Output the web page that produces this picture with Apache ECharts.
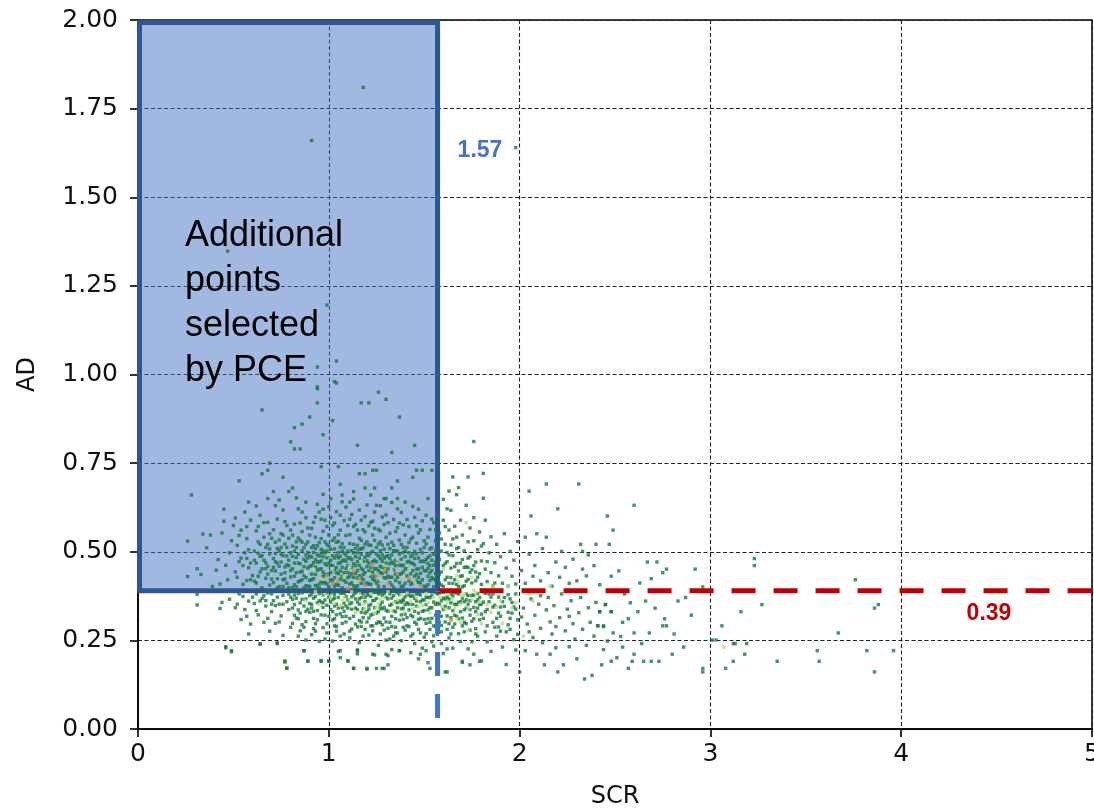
<!DOCTYPE html>
<html>
<head>
<meta charset="utf-8">
<script src="https://cdn.jsdelivr.net/npm/echarts@6/dist/echarts.min.js"></script>
<style>
html,body{margin:0;padding:0;background:#fff;}
#chart{width:1094px;height:808px;}
</style>
</head>
<body>
<div id="chart"></div>
<script>
// thresholds
const scrThreshold = 1.57;
const adThreshold = 0.39;
const blueLineBottom = 0.031;
const xMax = 5;
const yMax = 2;

// sparse high points
const upperPts = [[1.18,1.81],[0.91,1.66],[1.98,1.64],[0.47,1.348],[0.99,1.196],[0.94,1.021],[1.04,1.038],[0.94,0.965],[1.04,0.976],[0.94,0.96],[1.03,0.98],[1.26,0.95],[1.30,0.93],[1.17,0.92],[1.21,0.92],[0.94,0.92],[0.65,0.90],[0.90,0.88],[1.37,0.88],[1.02,0.87],[0.86,0.86],[0.82,0.85],[0.97,0.83],[0.80,0.81],[1.15,0.80],[1.45,0.80],[0.82,0.79],[0.85,0.79],[1.33,0.78],[0.69,0.75],[0.96,0.74],[1.05,0.74],[0.68,0.73],[0.65,0.72],[0.76,0.71],[0.53,0.70],[1.16,0.72],[1.19,0.72],[1.23,0.73],[1.25,0.73],[1.46,0.73],[1.49,0.73],[1.54,0.73],[1.44,0.71],[1.36,0.70],[1.33,0.68],[1.19,0.68],[1.24,0.68],[1.06,0.69],[0.28,0.66],[0.81,0.68],[0.79,0.67],[0.71,0.67],[0.68,0.65],[1.07,0.66],[1.13,0.67],[1.30,0.65],[1.36,0.65],[1.29,0.65],[0.26,0.53],[0.34,0.55],[0.26,0.43],[0.31,0.38],[0.31,0.35],[0.43,0.34],[0.58,0.64],[0.72,0.63],[0.88,0.64],[1.01,0.65],[1.11,0.64],[1.22,0.66],[1.40,0.64],[1.52,0.65],[0.45,0.62],[0.97,0.62],[1.27,0.63],[1.47,0.62]];

// cluster inside the selection box (AD >= 0.39, SCR <= 1.57)
const insidePts = [[0.31,0.452],[0.36,0.511],[0.42,0.478],[0.44,0.553],[0.47,0.421],[0.39,0.402],[0.48,0.497],[0.45,0.586],[0.33,0.436],[0.49,0.531],[0.41,0.448],[0.46,0.462],[0.50,0.574],[0.38,0.547],[0.43,0.409],
[0.51,0.443],[0.52,0.518],[0.53,0.472],[0.54,0.561],[0.55,0.408],[0.56,0.497],[0.57,0.537],[0.58,0.455],[0.59,0.589],[0.52,0.428],[0.54,0.482],[0.56,0.612],[0.57,0.419],[0.58,0.506],[0.59,0.468],[0.53,0.546],[0.55,0.461],[0.51,0.595],[0.57,0.571],[0.60,0.433],
[0.61,0.502],[0.61,0.417],[0.62,0.559],[0.62,0.468],[0.63,0.431],[0.63,0.528],[0.64,0.487],[0.64,0.603],[0.65,0.452],[0.65,0.398],[0.66,0.541],[0.66,0.476],[0.67,0.512],[0.67,0.425],[0.68,0.583],[0.68,0.459],[0.69,0.494],[0.69,0.406],[0.70,0.538],[0.70,0.447],[0.62,0.629],[0.66,0.582],[0.68,0.521],[0.64,0.443],[0.67,0.469],[0.63,0.571],[0.69,0.551],[0.61,0.476],
[0.71,0.481],[0.71,0.413],[0.72,0.527],[0.72,0.446],[0.73,0.592],[0.73,0.468],[0.74,0.503],[0.74,0.402],[0.75,0.551],[0.75,0.437],[0.76,0.489],[0.76,0.618],[0.77,0.457],[0.77,0.522],[0.78,0.411],[0.78,0.574],[0.79,0.476],[0.79,0.538],[0.80,0.429],[0.80,0.497],[0.71,0.562],[0.73,0.424],[0.74,0.646],[0.75,0.471],[0.76,0.421],[0.77,0.585],[0.78,0.463],[0.79,0.399],[0.72,0.495],[0.76,0.547],[0.78,0.512],[0.74,0.533],[0.80,0.561],[0.73,0.509],[0.77,0.441],
[0.81,0.452],[0.81,0.516],[0.82,0.407],[0.82,0.578],[0.83,0.484],[0.83,0.441],[0.84,0.539],[0.84,0.621],[0.85,0.466],[0.85,0.418],[0.86,0.503],[0.86,0.557],[0.87,0.433],[0.87,0.479],[0.88,0.596],[0.88,0.521],[0.89,0.454],[0.89,0.403],[0.90,0.488],[0.90,0.547],[0.81,0.399],[0.82,0.468],[0.83,0.528],[0.84,0.493],[0.85,0.581],[0.86,0.445],[0.87,0.511],[0.88,0.427],[0.89,0.567],[0.90,0.419],[0.83,0.652],[0.86,0.612],[0.88,0.473],[0.81,0.547],[0.85,0.532],[0.87,0.398],[0.89,0.498],[0.84,0.415],[0.82,0.502],[0.90,0.459],
[0.91,0.437],[0.91,0.512],[0.92,0.469],[0.92,0.583],[0.93,0.405],[0.93,0.541],[0.94,0.491],[0.94,0.448],[0.95,0.526],[0.95,0.612],[0.96,0.417],[0.96,0.474],[0.97,0.558],[0.97,0.503],[0.98,0.436],[0.98,0.589],[0.99,0.462],[0.99,0.521],[1.00,0.401],[1.00,0.548],[0.91,0.566],[0.92,0.424],[0.93,0.478],[0.94,0.634],[0.95,0.451],[0.96,0.537],[0.97,0.412],[0.98,0.497],[0.99,0.571],[1.00,0.468],[0.92,0.517],[0.94,0.403],[0.96,0.592],[0.98,0.528],[1.00,0.627],[0.93,0.457],[0.95,0.488],[0.97,0.443],[0.99,0.409],[0.91,0.485],[0.93,0.598],[0.95,0.397],[0.97,0.662],[0.99,0.483],[0.96,0.507],
[1.01,0.442],[1.01,0.507],[1.02,0.574],[1.02,0.418],[1.03,0.482],[1.03,0.539],[1.04,0.455],[1.04,0.613],[1.05,0.498],[1.05,0.406],[1.06,0.561],[1.06,0.469],[1.07,0.431],[1.07,0.523],[1.08,0.588],[1.08,0.477],[1.09,0.414],[1.09,0.546],[1.10,0.461],[1.10,0.502],[1.01,0.596],[1.02,0.461],[1.03,0.403],[1.04,0.527],[1.05,0.548],[1.06,0.422],[1.07,0.641],[1.08,0.441],[1.09,0.491],[1.10,0.574],[1.02,0.532],[1.04,0.489],[1.06,0.603],[1.08,0.512],[1.10,0.427],[1.03,0.451],[1.05,0.467],[1.07,0.398],[1.09,0.626],[1.01,0.476],[1.03,0.581],[1.05,0.529],[1.07,0.474],[1.09,0.453],[1.06,0.513],
[1.11,0.483],[1.11,0.548],[1.12,0.412],[1.12,0.605],[1.13,0.466],[1.13,0.521],[1.14,0.439],[1.14,0.577],[1.15,0.497],[1.15,0.404],[1.16,0.538],[1.16,0.462],[1.17,0.589],[1.17,0.427],[1.18,0.511],[1.18,0.473],[1.19,0.556],[1.19,0.408],[1.20,0.491],[1.20,0.632],[1.11,0.431],[1.12,0.503],[1.13,0.571],[1.14,0.486],[1.15,0.447],[1.16,0.618],[1.17,0.493],[1.18,0.562],[1.19,0.441],[1.20,0.528],[1.12,0.457],[1.14,0.399],[1.16,0.507],[1.18,0.421],[1.20,0.458],[1.11,0.592],[1.13,0.428],[1.15,0.561],[1.17,0.532],[1.19,0.599],[1.13,0.649],[1.15,0.518],[1.17,0.453],[1.19,0.484],[1.16,0.432],
[1.21,0.446],[1.21,0.519],[1.22,0.583],[1.22,0.408],[1.23,0.472],[1.23,0.547],[1.24,0.431],[1.24,0.612],[1.25,0.494],[1.25,0.452],[1.26,0.563],[1.26,0.417],[1.27,0.528],[1.27,0.481],[1.28,0.598],[1.28,0.439],[1.29,0.507],[1.29,0.402],[1.30,0.541],[1.30,0.468],[1.21,0.573],[1.22,0.497],[1.23,0.423],[1.24,0.532],[1.25,0.631],[1.26,0.488],[1.27,0.441],[1.28,0.519],[1.29,0.577],[1.30,0.426],[1.22,0.456],[1.24,0.476],[1.26,0.522],[1.28,0.473],[1.30,0.604],[1.21,0.409],[1.23,0.586],[1.25,0.411],[1.27,0.559],[1.29,0.458],[1.24,0.566],[1.27,0.503],
[1.31,0.489],[1.31,0.431],[1.32,0.552],[1.32,0.466],[1.33,0.406],[1.33,0.527],[1.34,0.591],[1.34,0.448],[1.35,0.503],[1.35,0.419],[1.36,0.568],[1.36,0.476],[1.37,0.437],[1.37,0.533],[1.38,0.611],[1.38,0.461],[1.39,0.498],[1.39,0.403],[1.40,0.547],[1.40,0.452],[1.31,0.582],[1.32,0.413],[1.33,0.471],[1.34,0.518],[1.35,0.557],[1.36,0.428],[1.37,0.493],[1.38,0.402],[1.39,0.576],[1.40,0.486],[1.32,0.509],[1.34,0.399],[1.36,0.621],[1.38,0.521],[1.33,0.639],[1.35,0.461],[1.37,0.581],[1.39,0.443],
[1.41,0.432],[1.41,0.512],[1.42,0.473],[1.42,0.571],[1.43,0.408],[1.43,0.536],[1.44,0.491],[1.44,0.447],[1.45,0.597],[1.45,0.463],[1.46,0.524],[1.46,0.418],[1.47,0.482],[1.47,0.553],[1.48,0.439],[1.48,0.506],[1.49,0.587],[1.49,0.456],[1.50,0.403],[1.50,0.531],[1.41,0.591],[1.42,0.417],[1.43,0.469],[1.44,0.628],[1.45,0.501],[1.46,0.451],[1.47,0.414],[1.48,0.562],[1.49,0.497],[1.50,0.472],[1.42,0.526],[1.44,0.541],[1.46,0.573],[1.48,0.412],
[1.51,0.446],[1.51,0.522],[1.52,0.484],[1.52,0.407],[1.53,0.563],[1.53,0.461],[1.54,0.427],[1.54,0.511],[1.55,0.493],[1.55,0.582],[1.56,0.438],[1.56,0.471],[1.51,0.603],[1.52,0.541],[1.53,0.419],[1.54,0.476],[1.55,0.401],[1.56,0.531],[1.52,0.453],[1.54,0.592],[1.56,0.562],[1.53,0.508]];

// densest part of the box, just above the AD threshold
const insideDensePts = [[0.62,0.412],[0.65,0.489],[0.68,0.437],[0.71,0.456],[0.73,0.398],[0.75,0.512],[0.77,0.423],[0.79,0.461],[0.81,0.487],[0.83,0.401],[0.85,0.443],[0.86,0.527],[0.88,0.404],[0.89,0.482],[0.91,0.421],[0.92,0.498],[0.93,0.436],[0.94,0.517],[0.95,0.409],[0.96,0.452],[0.97,0.486],[0.98,0.413],[0.99,0.502],[1.00,0.437],[1.01,0.421],[1.02,0.489],[1.03,0.427],[1.04,0.408],[1.05,0.483],[1.06,0.446],[1.07,0.502],[1.08,0.419],[1.09,0.473],[1.10,0.441],[1.11,0.409],[1.12,0.478],[1.13,0.497],[1.14,0.461],[1.15,0.426],[1.16,0.482],[1.17,0.411],[1.18,0.449],[1.19,0.522],[1.20,0.412],[1.21,0.468],[1.22,0.431],[1.23,0.501],[1.24,0.452],[1.25,0.472],[1.26,0.403],[1.27,0.459],[1.28,0.491],[1.29,0.427],[1.30,0.486],[1.31,0.452],[1.32,0.428],[1.33,0.491],[1.34,0.467],[1.35,0.437],[1.36,0.502],[1.37,0.413],[1.38,0.479],[1.39,0.462],[1.40,0.411],[1.41,0.471],[1.42,0.497],[1.43,0.438],[1.44,0.412],[1.45,0.481],[1.46,0.437],[1.47,0.452],[1.48,0.472],[1.49,0.421],[1.50,0.447],[1.51,0.478],[1.52,0.431],[1.53,0.489],[1.54,0.447],[1.55,0.423],[1.56,0.502],
[0.64,0.521],[0.67,0.452],[0.70,0.423],[0.72,0.472],[0.74,0.459],[0.76,0.402],[0.78,0.488],[0.80,0.447],[0.82,0.431],[0.84,0.468],[0.86,0.421],[0.87,0.458],[0.88,0.491],[0.90,0.402],[0.91,0.461],[0.93,0.509],[0.94,0.471],[0.96,0.496],[0.97,0.431],[0.98,0.466],[1.00,0.516],[1.01,0.462],[1.03,0.508],[1.04,0.441],[1.06,0.487],[1.07,0.456],[1.08,0.496],[1.10,0.482],[1.11,0.523],[1.12,0.438],[1.14,0.509],[1.15,0.472],[1.17,0.508],[1.18,0.436],[1.20,0.474],[1.21,0.489],[1.22,0.518],[1.24,0.419],[1.25,0.512],[1.26,0.447],[1.28,0.456],[1.29,0.482],[1.30,0.443],[1.32,0.481],[1.33,0.428],[1.34,0.503],[1.35,0.476],[1.37,0.462],[1.38,0.438],[1.40,0.502],[1.41,0.452],[1.43,0.486],[1.44,0.467],[1.46,0.494],[1.47,0.428],[1.49,0.474],[1.50,0.512],[1.52,0.467],[1.53,0.441],[1.55,0.462],[1.56,0.419],[0.69,0.508],[0.75,0.493],[0.83,0.512],[0.89,0.528],[0.95,0.471],[1.05,0.438],[1.13,0.404],[1.23,0.443],[1.31,0.521],[1.39,0.513],[1.45,0.431],[1.51,0.401],[0.59,0.421],[0.63,0.496],[0.57,0.481]];

// cluster below the AD threshold
const belowPts = [[0.46,0.229],[0.49,0.218],[0.52,0.352],[0.55,0.374],[0.57,0.318],[0.58,0.361],[0.59,0.296],[0.53,0.381],[0.56,0.337],[0.60,0.372],[0.48,0.366],[0.51,0.342],[0.44,0.357],[0.58,0.268],[0.54,0.309],
[0.61,0.354],[0.62,0.381],[0.63,0.322],[0.64,0.239],[0.65,0.368],[0.66,0.301],[0.67,0.347],[0.68,0.384],[0.69,0.276],[0.70,0.331],[0.71,0.362],[0.72,0.298],[0.73,0.241],[0.74,0.352],[0.75,0.319],[0.76,0.377],[0.77,0.189],[0.78,0.172],[0.79,0.337],[0.80,0.287],[0.62,0.334],[0.64,0.361],[0.66,0.376],[0.68,0.312],[0.70,0.381],[0.72,0.348],[0.74,0.302],[0.76,0.264],[0.78,0.359],[0.80,0.372],
[0.81,0.341],[0.82,0.378],[0.83,0.313],[0.84,0.262],[0.85,0.356],[0.86,0.294],[0.87,0.221],[0.88,0.367],[0.89,0.192],[0.90,0.329],[0.91,0.351],[0.92,0.283],[0.93,0.374],[0.94,0.308],[0.95,0.247],[0.96,0.193],[0.97,0.343],[0.98,0.364],[0.99,0.271],[1.00,0.318],[0.81,0.298],[0.82,0.321],[0.83,0.369],[0.84,0.336],[0.85,0.277],[0.86,0.384],[0.87,0.347],[0.88,0.303],[0.89,0.338],[0.90,0.376],[0.91,0.266],[0.92,0.332],[0.93,0.297],[0.94,0.356],[0.95,0.382],[0.96,0.322],[0.97,0.286],[0.98,0.254],[0.99,0.349],[1.00,0.372],[0.84,0.382],[0.88,0.251],[0.92,0.369],[0.96,0.358],[1.00,0.192],
[1.01,0.337],[1.02,0.366],[1.03,0.291],[1.04,0.352],[1.05,0.219],[1.06,0.325],[1.07,0.384],[1.08,0.268],[1.09,0.347],[1.10,0.193],[1.11,0.312],[1.12,0.373],[1.13,0.171],[1.14,0.296],[1.15,0.358],[1.16,0.244],[1.17,0.329],[1.18,0.381],[1.19,0.281],[1.20,0.169],[1.01,0.384],[1.02,0.308],[1.03,0.347],[1.04,0.276],[1.05,0.371],[1.06,0.262],[1.07,0.317],[1.08,0.355],[1.09,0.302],[1.10,0.364],[1.11,0.257],[1.12,0.338],[1.13,0.378],[1.14,0.341],[1.15,0.223],[1.16,0.367],[1.17,0.289],[1.18,0.314],[1.19,0.359],[1.20,0.331],[1.06,0.221],[1.15,0.212],[1.02,0.248],[1.04,0.322],[1.08,0.383],[1.12,0.282],[1.16,0.306],[1.18,0.262],[1.20,0.378],[1.03,0.379],[1.07,0.342],[1.11,0.353],[1.14,0.367],[1.17,0.371],[1.19,0.327],
[1.21,0.348],[1.22,0.291],[1.23,0.362],[1.24,0.209],[1.25,0.327],[1.26,0.381],[1.27,0.268],[1.28,0.339],[1.29,0.171],[1.30,0.302],[1.31,0.367],[1.32,0.254],[1.33,0.318],[1.34,0.376],[1.35,0.287],[1.36,0.342],[1.37,0.221],[1.38,0.358],[1.39,0.309],[1.40,0.373],[1.21,0.313],[1.22,0.374],[1.23,0.277],[1.24,0.342],[1.25,0.368],[1.26,0.236],[1.27,0.351],[1.28,0.294],[1.29,0.382],[1.30,0.335],[1.31,0.284],[1.32,0.349],[1.33,0.369],[1.34,0.262],[1.35,0.331],[1.36,0.384],[1.37,0.307],[1.38,0.249],[1.39,0.366],[1.40,0.324],[1.22,0.321],[1.24,0.386],[1.26,0.302],[1.28,0.377],[1.30,0.251],[1.32,0.381],[1.34,0.333],[1.36,0.271],[1.38,0.322],[1.40,0.279],[1.21,0.265],[1.25,0.298],[1.29,0.313],[1.33,0.224],[1.37,0.361],[1.31,0.207],[1.35,0.359],[1.39,0.341],[1.27,0.384],[1.23,0.388],
[1.41,0.356],[1.42,0.289],[1.43,0.374],[1.44,0.317],[1.45,0.241],[1.46,0.347],[1.47,0.381],[1.48,0.271],[1.49,0.332],[1.50,0.364],[1.51,0.298],[1.52,0.187],[1.53,0.342],[1.54,0.377],[1.55,0.263],[1.56,0.321],[1.57,0.355],[1.58,0.384],[1.59,0.292],[1.60,0.337],[1.41,0.314],[1.42,0.378],[1.43,0.262],[1.44,0.351],[1.45,0.368],[1.46,0.296],[1.47,0.327],[1.48,0.359],[1.49,0.228],[1.50,0.309],[1.51,0.372],[1.52,0.336],[1.53,0.281],[1.54,0.312],[1.55,0.358],[1.56,0.385],[1.57,0.267],[1.58,0.329],[1.59,0.362],[1.60,0.213],[1.42,0.336],[1.44,0.268],[1.46,0.381],[1.48,0.312],[1.50,0.259],[1.52,0.371],[1.54,0.246],[1.56,0.289],[1.58,0.302],[1.60,0.369],[1.43,0.215],[1.47,0.198],[1.51,0.221],[1.55,0.234],[1.59,0.241],
[1.61,0.346],[1.62,0.281],[1.63,0.367],[1.64,0.314],[1.65,0.228],[1.66,0.352],[1.67,0.384],[1.68,0.269],[1.69,0.331],[1.70,0.188],[1.71,0.359],[1.72,0.297],[1.73,0.376],[1.74,0.321],[1.75,0.246],[1.76,0.343],[1.77,0.283],[1.78,0.364],[1.79,0.308],[1.80,0.192],[1.61,0.302],[1.62,0.372],[1.63,0.257],[1.64,0.381],[1.65,0.334],[1.66,0.296],[1.67,0.318],[1.68,0.357],[1.69,0.247],[1.70,0.369],[1.71,0.274],[1.72,0.341],[1.73,0.226],[1.74,0.362],[1.75,0.304],[1.76,0.378],[1.77,0.331],[1.78,0.262],[1.79,0.351],[1.80,0.324],[1.62,0.226],[1.64,0.268],[1.66,0.386],[1.68,0.311],[1.70,0.291],[1.72,0.364],[1.74,0.279],[1.76,0.211],[1.78,0.382],[1.61,0.161],
[1.81,0.358],[1.82,0.274],[1.83,0.337],[1.84,0.381],[1.85,0.219],[1.86,0.301],[1.87,0.349],[1.88,0.262],[1.89,0.372],[1.90,0.318],[1.91,0.231],[1.92,0.346],[1.93,0.182],[1.94,0.294],[1.95,0.367],[1.96,0.327],[1.97,0.252],[1.98,0.381],[1.99,0.308],[2.00,0.161],[1.81,0.312],[1.83,0.246],[1.85,0.372],[1.87,0.287],[1.89,0.327],[1.91,0.359],[1.93,0.274],[1.95,0.312],[1.97,0.344],[1.99,0.267],[1.82,0.383],[1.86,0.344],[1.90,0.276],[1.94,0.379],[1.98,0.223],
[0.46,0.232],[0.49,0.221],[0.64,0.241],[0.73,0.243],[0.77,0.192],[0.78,0.171],[0.87,0.221],[0.89,0.191],[0.96,0.191],[1.00,0.191],[1.06,0.201],[1.10,0.191],[1.13,0.171],[1.20,0.171],[1.25,0.171],[1.28,0.171],[1.31,0.181],[1.15,0.221],[1.23,0.211],[1.30,0.211],[1.37,0.221],[1.48,0.211],[1.53,0.171],[1.62,0.161],[1.70,0.191],[1.79,0.191],[1.74,0.181]];

// densest part below the AD threshold
const belowDensePts = [[0.76,0.352],[0.79,0.381],[0.82,0.351],[0.84,0.311],[0.86,0.366],[0.88,0.332],[0.90,0.354],[0.91,0.381],[0.92,0.312],[0.94,0.334],[0.95,0.362],[0.97,0.378],[0.98,0.321],[0.99,0.384],[1.01,0.358],[1.02,0.331],[1.03,0.369],[1.05,0.341],[1.06,0.383],[1.07,0.298],[1.08,0.332],[1.09,0.374],[1.10,0.341],[1.12,0.356],[1.13,0.318],[1.14,0.384],[1.15,0.337],[1.16,0.352],[1.17,0.386],[1.18,0.339],[1.19,0.371],[1.20,0.302],[1.21,0.378],[1.22,0.351],[1.23,0.324],[1.24,0.363],[1.25,0.386],[1.26,0.331],[1.27,0.301],[1.28,0.358],[1.29,0.343],[1.30,0.371],[1.31,0.332],[1.32,0.301],[1.33,0.352],[1.34,0.389],[1.35,0.311],[1.36,0.356],[1.37,0.379],[1.38,0.339],[1.39,0.287],[1.40,0.351],[1.41,0.381],[1.42,0.352],[1.43,0.321],[1.44,0.376],[1.45,0.332],[1.46,0.361],[1.47,0.309],[1.48,0.378],[1.49,0.364],[1.50,0.334],[1.51,0.351],[1.52,0.311],[1.53,0.371],[1.54,0.342],[1.55,0.291],[1.56,0.352],[1.57,0.381],[1.58,0.352],[1.59,0.318],[1.60,0.386],[1.61,0.367],[1.62,0.319],[1.63,0.342],[1.64,0.356],[1.65,0.376],[1.66,0.321],[1.67,0.351],[1.68,0.381],[1.69,0.359],[1.70,0.313],[1.71,0.336],[1.72,0.381],[1.73,0.352],[1.74,0.337],[1.75,0.377],[1.76,0.311],[1.77,0.359],[1.78,0.341],[1.79,0.371],[1.80,0.352],[1.82,0.331],[1.84,0.359],[1.86,0.381],[1.88,0.312],[1.90,0.344],[1.92,0.371],[1.94,0.329],[1.96,0.357],[1.98,0.338],
[0.87,0.287],[0.93,0.276],[0.99,0.297],[1.04,0.289],[1.11,0.276],[1.17,0.302],[1.23,0.291],[1.29,0.279],[1.35,0.271],[1.41,0.291],[1.47,0.281],[1.53,0.301],[1.59,0.274],[1.65,0.287],[1.71,0.301],[1.77,0.268],[1.83,0.291],[1.89,0.288],[1.95,0.281],[1.63,0.297],[1.57,0.327],[1.51,0.269],[1.45,0.301],[1.39,0.362],[1.33,0.289],[1.27,0.341],[1.21,0.338],[1.15,0.288],[1.09,0.318],[1.03,0.311],[0.97,0.356],[0.91,0.341],[0.85,0.327],[0.81,0.366],[0.73,0.372],[0.70,0.352],[0.67,0.362]];

// right of the SCR threshold, above the AD threshold
const rightUpperPts = [[1.76,0.811],[1.65,0.711],[1.73,0.711],[1.81,0.721],[1.81,0.651],[1.63,0.671],[1.67,0.661],[2.05,0.671],[2.14,0.691],[2.31,0.691],[2.20,0.621],[2.06,0.601],[2.60,0.631],[2.46,0.601],[2.49,0.561],[2.32,0.521],[2.40,0.521],[2.47,0.521],[2.03,0.541],[2.09,0.551],[2.14,0.541],[2.22,0.501],[2.33,0.501],[2.36,0.491],[2.33,0.451],[2.39,0.461],[2.48,0.431],
[1.58,0.412],[1.58,0.478],[1.59,0.536],[1.59,0.443],[1.60,0.402],[1.60,0.589],[1.61,0.467],[1.61,0.521],[1.62,0.428],[1.62,0.498],[1.63,0.561],[1.63,0.411],[1.64,0.454],[1.64,0.617],[1.65,0.489],[1.65,0.536],[1.66,0.421],[1.66,0.572],[1.67,0.467],[1.67,0.408],[1.68,0.512],[1.68,0.446],[1.69,0.589],[1.69,0.431],[1.70,0.478],[1.70,0.547],[1.71,0.404],[1.71,0.503],[1.72,0.457],[1.72,0.631],[1.73,0.422],[1.73,0.528],[1.74,0.486],[1.74,0.567],[1.75,0.412],[1.75,0.449],[1.76,0.531],[1.76,0.596],[1.77,0.471],[1.77,0.418],[1.78,0.506],[1.79,0.438],[1.79,0.556],[1.80,0.474],[1.80,0.408],[1.81,0.523],[1.82,0.451],[1.82,0.589],[1.83,0.416],[1.84,0.497],[1.85,0.441],[1.85,0.542],[1.86,0.403],[1.87,0.469],[1.88,0.521],[1.89,0.432],[1.90,0.486],[1.91,0.411],[1.92,0.551],[1.93,0.454],[1.94,0.403],[1.95,0.501],[1.96,0.431],[1.97,0.476],[1.98,0.409],[1.99,0.529],[2.01,0.447],[2.03,0.411],[2.05,0.493],[2.07,0.431],[2.08,0.461],[2.11,0.418],[2.12,0.509],[2.15,0.441],[2.17,0.403],[2.19,0.471],[2.21,0.428],[2.24,0.456],[2.26,0.411],[2.28,0.479],[2.30,0.418],[2.35,0.432],[2.42,0.407],[1.60,0.648],[1.68,0.681],[1.62,0.621],
[1.58,0.437],[1.59,0.502],[1.60,0.461],[1.61,0.421],[1.62,0.472],[1.63,0.491],[1.64,0.427],[1.65,0.411],[1.66,0.458],[1.67,0.509],[1.68,0.402],[1.69,0.468],[1.70,0.432],[1.71,0.456],[1.72,0.417],[1.73,0.482],[1.74,0.442],[1.76,0.461],[1.78,0.428],[1.80,0.516],[1.58,0.553],[1.61,0.571],[1.64,0.519],[1.67,0.541],[1.70,0.401],[1.73,0.456],[1.77,0.443],[1.83,0.472],[1.87,0.412],[1.59,0.406]];

const rightLowerPts = [[2.03,0.221],[2.09,0.211],[2.13,0.181],[2.20,0.161],[2.23,0.181],[2.34,0.141],[2.38,0.151],[2.43,0.181],[2.48,0.191],[2.02,0.341],[2.04,0.296],[2.06,0.367],[2.07,0.258],[2.08,0.321],[2.10,0.352],[2.11,0.284],[2.12,0.243],[2.14,0.336],[2.15,0.371],[2.16,0.302],[2.17,0.268],[2.18,0.348],[2.19,0.229],[2.21,0.314],[2.22,0.381],[2.24,0.277],[2.25,0.338],[2.26,0.232],[2.27,0.362],[2.28,0.297],[2.29,0.254],[2.31,0.328],[2.32,0.371],[2.33,0.281],[2.35,0.236],[2.36,0.342],[2.37,0.301],[2.39,0.262],[2.40,0.357],[2.41,0.291],[2.42,0.331],[2.44,0.289],[2.45,0.351],[2.46,0.248],[2.48,0.331],[2.49,0.271],[2.05,0.274],[2.16,0.211],[2.30,0.198],[2.01,0.316],[2.11,0.376],[2.26,0.318],[2.44,0.224],[2.19,0.289]];

const tailPts = [[2.67,0.471],[2.72,0.471],[2.77,0.451],[2.75,0.441],[2.92,0.451],[3.23,0.481],[3.23,0.461],[2.96,0.401],[2.66,0.361],[2.83,0.361],[2.87,0.371],[3.16,0.331],[2.71,0.341],[2.90,0.321],[2.76,0.311],[2.75,0.291],[2.77,0.291],[2.68,0.271],[3.06,0.291],[3.01,0.251],[3.12,0.241],[3.18,0.211],[3.12,0.191],[3.08,0.171],[2.96,0.171],[2.96,0.161],[2.86,0.231],[2.80,0.211],[2.73,0.191],[2.69,0.191],[2.65,0.191],[2.60,0.211],[2.57,0.171],[2.59,0.191],[2.54,0.231],[2.60,0.271],[2.62,0.331],[2.57,0.311],[2.54,0.301],[2.53,0.261],[2.44,0.291],[2.41,0.291],[2.45,0.351],[2.42,0.331],[2.48,0.331],[3.76,0.421],[3.27,0.351],[3.86,0.341],[3.88,0.351],[3.67,0.271],[3.19,0.241],[3.13,0.241],[3.35,0.191],[3.56,0.221],[3.57,0.191],[3.82,0.221],[3.96,0.221],[3.86,0.161],[3.03,0.251],[2.55,0.381],[2.63,0.412],[2.52,0.446],[2.58,0.356],[2.69,0.424],[2.81,0.268],[2.51,0.201],[2.64,0.241]];

// high-density points (lighter colours)
const lightPts = [[1.58,0.372],[1.62,0.356],[1.66,0.341],[1.71,0.381],[1.75,0.366],[1.83,0.351],[1.88,0.344],[1.64,0.392],[1.69,0.301],[1.78,0.322],[1.52,0.357],[1.46,0.371],[1.41,0.383],[1.36,0.364],[1.31,0.387],[1.27,0.366],[1.22,0.381],[1.18,0.352],[1.12,0.387],[1.08,0.371],[1.03,0.355],[0.98,0.379],[0.93,0.388],[1.57,0.309],[1.73,0.279],[1.94,0.401],[2.16,0.402],[1.91,0.298],[2.07,0.361],[3.07,0.231],[1.67,0.432],[1.72,0.582],[1.77,0.384],[1.49,0.348],[1.39,0.331],[1.14,0.329],[0.88,0.361],[1.81,0.392],[1.60,0.451],[2.02,0.262],
[1.02,0.452],[1.08,0.431],[1.14,0.414],[1.21,0.437],[1.27,0.421],[1.33,0.446],[1.39,0.427],[1.45,0.415],[0.96,0.423],[0.88,0.441],[1.17,0.472],[1.29,0.461],[1.00,0.492],[1.24,0.402],[1.36,0.478],[1.11,0.458],[0.92,0.451],[1.42,0.451],
[0.95,0.351],[1.01,0.372],[1.06,0.349],[1.11,0.366],[1.16,0.381],[1.20,0.357],[1.25,0.343],[1.29,0.371],[1.34,0.357],[1.38,0.379],[1.43,0.361],[1.47,0.345],[1.51,0.382],[1.55,0.371],[1.61,0.338],[1.65,0.367],[1.69,0.352],[1.73,0.341],[1.79,0.358],[1.85,0.329],[1.90,0.361],[1.96,0.342],[1.70,0.376],[1.63,0.384],[1.59,0.346],[1.53,0.328],[1.44,0.339],[1.33,0.334],[1.24,0.327],[1.19,0.339],[1.07,0.362],[1.76,0.392],[1.86,0.401],[1.68,0.417],[1.75,0.428],[2.05,0.381],[1.98,0.356],[1.80,0.297],[1.67,0.311],[1.26,0.354]];
const orangePts = [[1.05,0.418],[1.13,0.446],[1.19,0.406],[1.25,0.432],[1.31,0.411],[1.36,0.438],[1.42,0.425],[1.10,0.396],[0.99,0.432],[1.23,0.461],[1.48,0.401],[1.64,0.307],[1.16,0.426],[1.29,0.447],[1.02,0.411]];

// reference lines
const redLine = [[scrThreshold, adThreshold], [xMax, adThreshold]];
const blueLine = [[scrThreshold, blueLineBottom], [scrThreshold, adThreshold]];

const darkPts = [].concat(upperPts, insidePts, insideDensePts, belowPts, belowDensePts, rightUpperPts, rightLowerPts, tailPts);

const chart = echarts.init(document.getElementById('chart'), null, {renderer: 'canvas'});
const tickFont = "'DejaVu Sans', sans-serif";
const dotSize = 3.4;
chart.setOption({
  animation: false,
  backgroundColor: '#fff',
  grid: {left: 138, right: 2, top: 20, bottom: 79, outerBoundsMode: 'none', containLabel: false,
    show: true, borderColor: '#000', borderWidth: 1.5, backgroundColor: 'transparent'},
  xAxis: {
    type: 'value', min: 0, max: xMax, interval: 1,
    name: 'SCR', nameLocation: 'middle', nameGap: 56,
    nameTextStyle: {fontSize: 24, color: '#111', fontFamily: tickFont},
    axisLine: {show: true, lineStyle: {color: '#000', width: 1.6}},
    axisTick: {show: true, length: 8, lineStyle: {color: '#000', width: 1.6}},
    axisLabel: {fontSize: 25, color: '#111', fontFamily: tickFont, margin: 13},
    splitLine: {show: true, lineStyle: {color: '#222', width: 1.1, type: [4, 2.5]}}
  },
  yAxis: {
    type: 'value', min: 0, max: yMax, interval: 0.25,
    name: 'AD', nameLocation: 'middle', nameGap: 98, nameRotate: 90,
    nameTextStyle: {fontSize: 24, color: '#111', fontFamily: tickFont},
    axisLine: {show: true, lineStyle: {color: '#000', width: 1.6}},
    axisTick: {show: true, length: 8, lineStyle: {color: '#000', width: 1.6}},
    axisLabel: {fontSize: 25, color: '#111', fontFamily: tickFont, margin: 20, formatter: v => v.toFixed(2)},
    splitLine: {show: true, lineStyle: {color: '#222', width: 1.1, type: [4, 2.5]}}
  },
  series: [
    {type: 'scatter', data: darkPts, symbol: 'rect', symbolSize: dotSize, itemStyle: {color: '#147a3c'}, z: 2, silent: true},
    {type: 'scatter', data: lightPts, symbol: 'rect', symbolSize: dotSize, itemStyle: {color: '#b8de74'}, z: 2, silent: true},
    {type: 'scatter', data: orangePts, symbol: 'rect', symbolSize: dotSize, itemStyle: {color: '#e8813a'}, z: 2, silent: true},
    {type: 'scatter', data: [], z: 5, silent: true,
      markArea: {silent: true,
        itemStyle: {color: 'rgba(68,114,196,0.5)', borderColor: '#2F5597', borderWidth: 5},
        data: [[{coord: [0.008, yMax - 0.007]}, {coord: [scrThreshold, adThreshold]}]]}
    },
    {type: 'line', data: redLine, showSymbol: false, z: 6, silent: true,
      lineStyle: {color: '#C00000', width: 5, type: [24, 18]}},
    {type: 'line', data: blueLine, showSymbol: false, z: 6, silent: true,
      lineStyle: {color: '#4472C4', width: 5, type: [24, 18]}}
  ],
  graphic: [
    {type: 'text', left: 185, top: 214, z: 100, silent: true,
      style: {text: 'Additional\npoints\nselected\nby PCE', fontSize: 36, lineHeight: 45, fill: '#000', fontFamily: "'Liberation Sans', Arial, sans-serif"}},
    {type: 'text', x: 480, y: 151, z: 100, silent: true,
      style: {text: '1.57', fontSize: 23, fontWeight: 'bold', fill: '#4472C4', align: 'center', verticalAlign: 'middle', fontFamily: "'Liberation Sans', Arial, sans-serif"}},
    {type: 'text', x: 989, y: 614, z: 100, silent: true,
      style: {text: '0.39', fontSize: 23, fontWeight: 'bold', fill: '#C00000', align: 'center', verticalAlign: 'middle', fontFamily: "'Liberation Sans', Arial, sans-serif"}}
  ]
});
</script>
</body>
</html>
